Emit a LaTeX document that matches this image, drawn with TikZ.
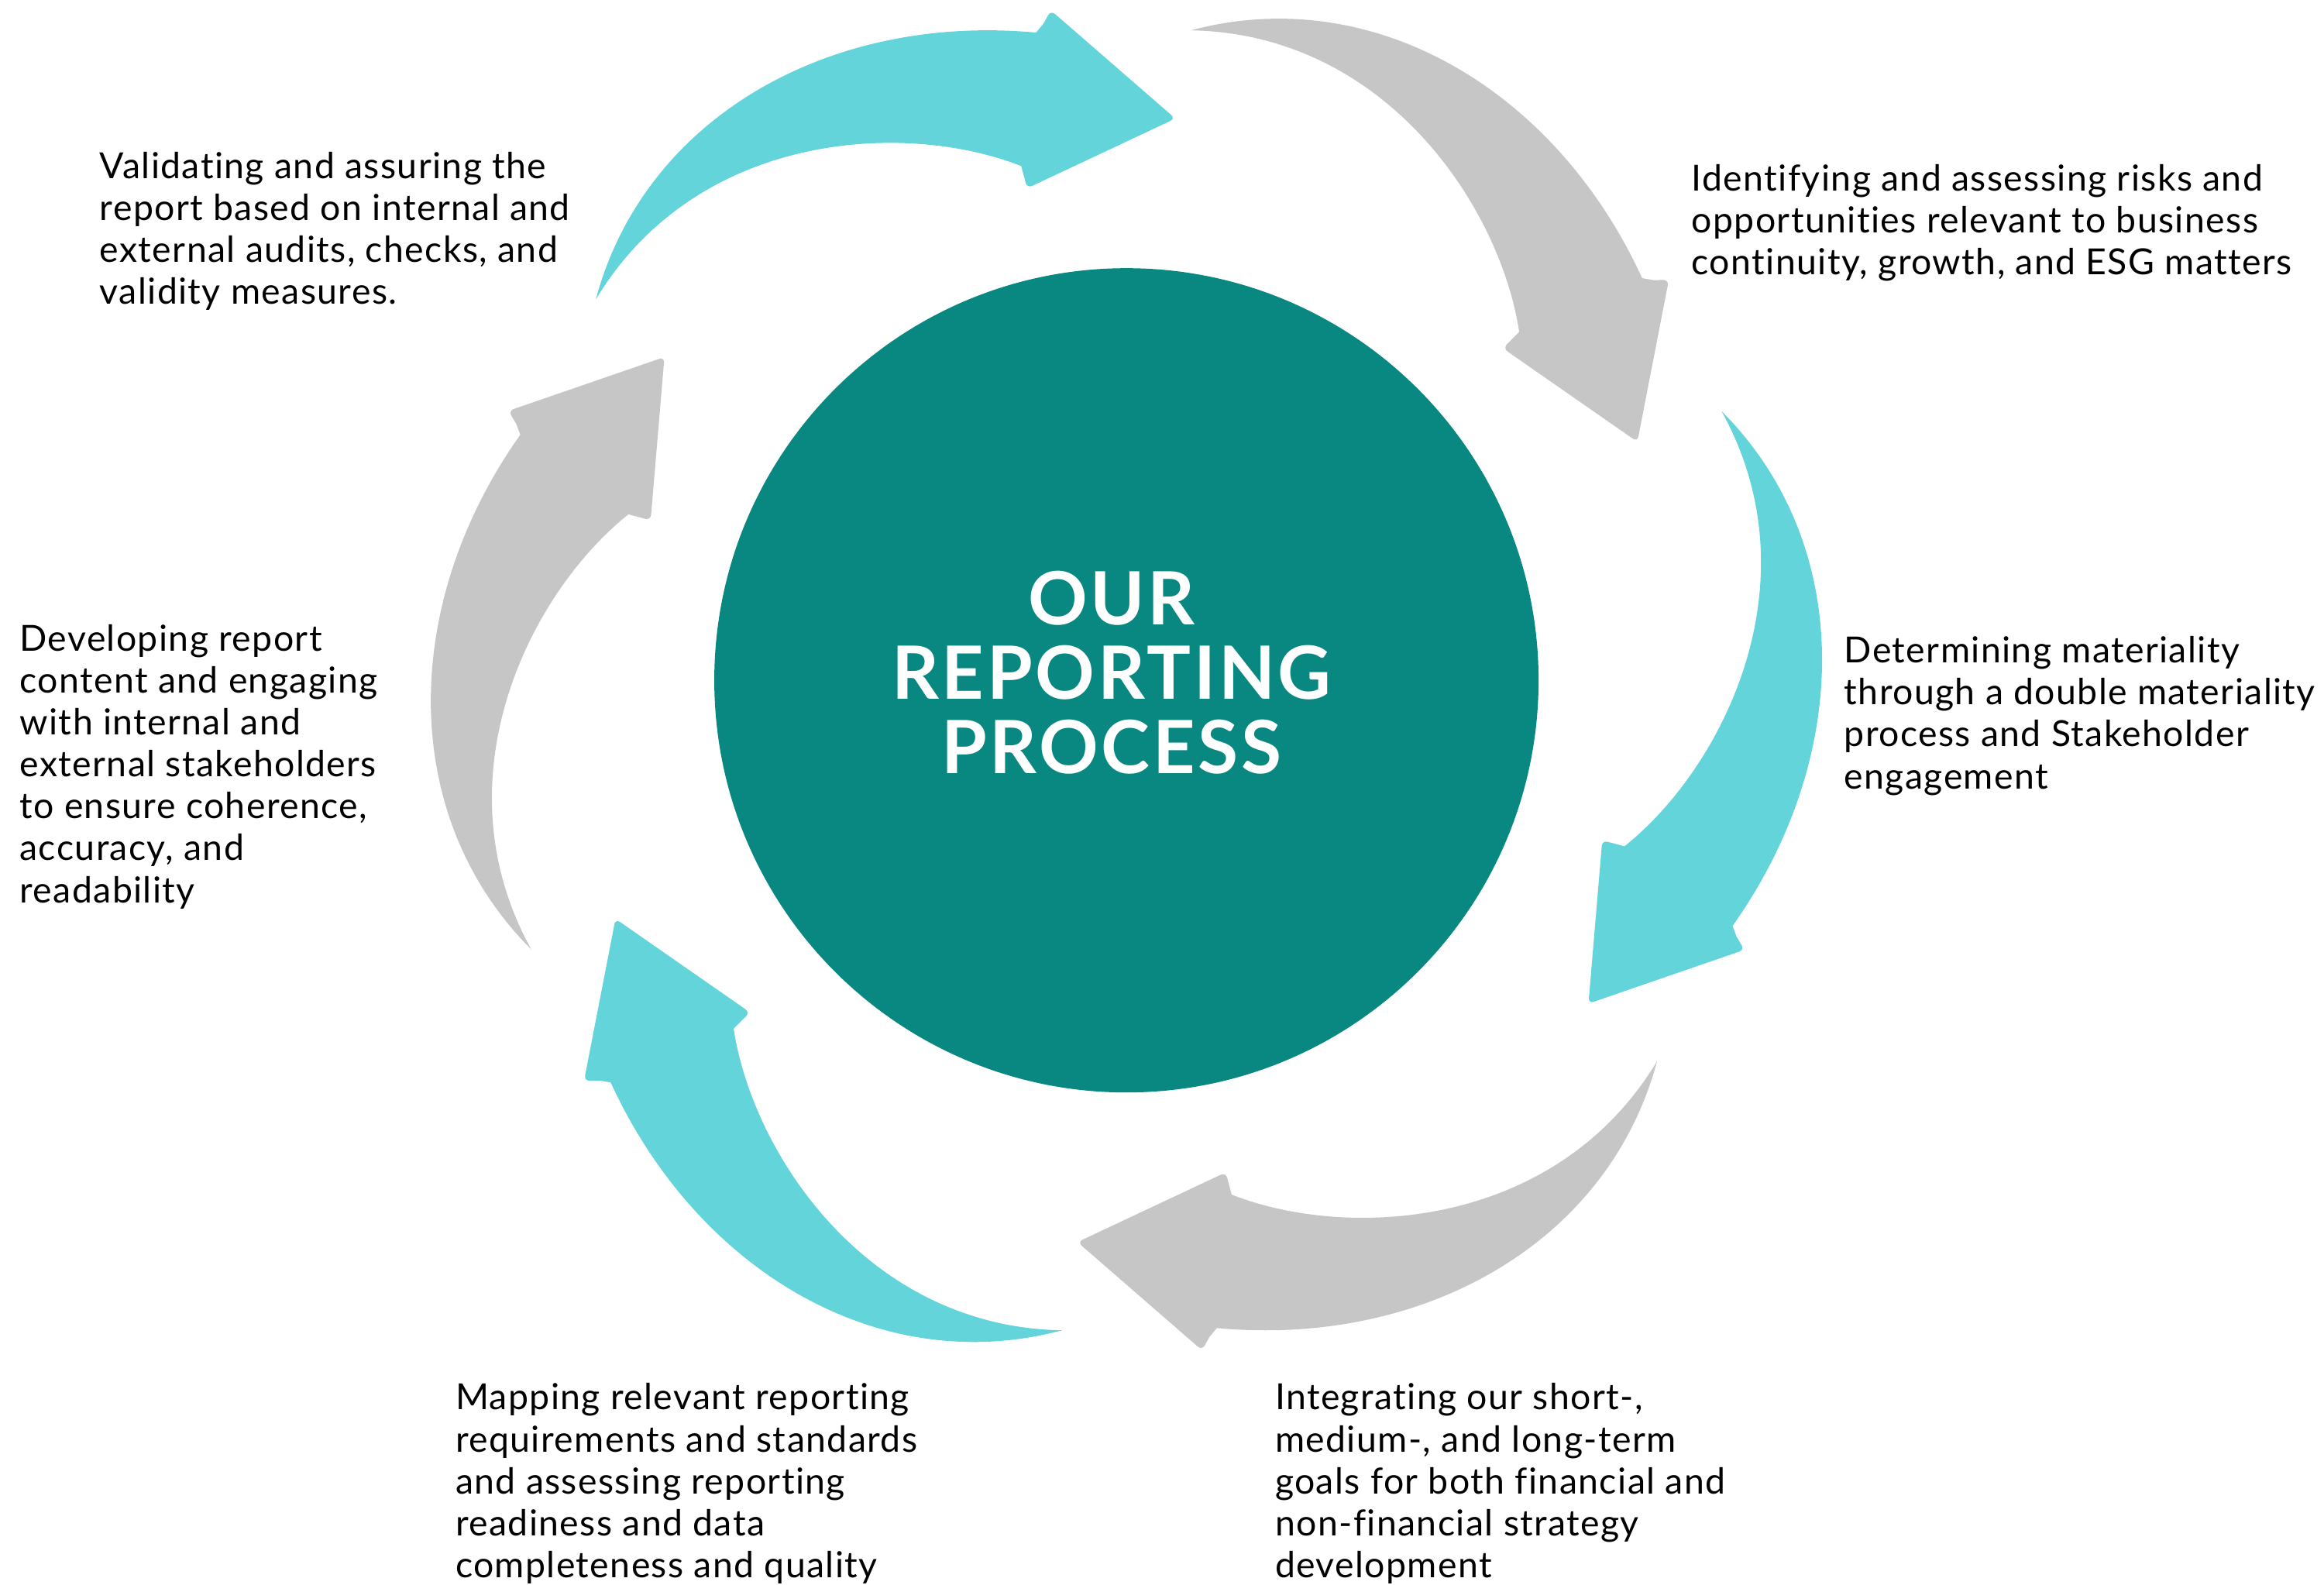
\documentclass[tikz,border=0pt]{standalone}
\usepackage{fontspec}
\setmainfont{Lato}[Ligatures=CommonOff]
\definecolor{repcyan}{HTML}{64D4DB}
\definecolor{repgray}{HTML}{C6C6C6}
\definecolor{repteal}{HTML}{088880}
% one swoosh arrow, drawn round the hub centre, pointing clockwise
\newcommand{\cyclearrow}{%
  (-358,-257) .. controls (-325,-380) and (-200,-450) .. (-61,-437)
  -- (-56,-443) [rounded corners=2pt] -- (-51,-452) -- (33,-379) -- (-67,-332) [sharp corners] -- (-71,-347)
  .. controls (-150,-378) and (-290,-370) .. (-358,-257) -- cycle}
\tikzset{
  steptext/.style={anchor=north west,inner sep=0pt,align=left,
    font=\fontsize{13.2}{15.4}\selectfont\addfontfeatures{LetterSpace=3}},
  hubtitle/.style={inner sep=0pt,align=center,text=white,
    font=\bfseries\fontsize{27}{27.3}\selectfont\addfontfeatures{LetterSpace=4}}
}
\begin{document}
\begin{tikzpicture}[x=0.19133mm,y=-0.19133mm]
    \useasboundingbox (0,0) rectangle (1568,1069);
    \node[circle,fill=repteal,minimum size=106.4mm,inner sep=0pt] (hub) at (760,459) {};
    \node[hubtitle] (title) at (750,454) {OUR\\REPORTING\\PROCESS};
    \begin{scope}[shift={(760,459)}]
        \fill[repcyan] \cyclearrow;
    \end{scope}
    \begin{scope}[shift={(760,459)},rotate=-60]
        \fill[repgray] \cyclearrow;
    \end{scope}
    \begin{scope}[shift={(760,459)},rotate=-120]
        \fill[repcyan] \cyclearrow;
    \end{scope}
    \begin{scope}[shift={(760,459)},rotate=-180]
        \fill[repgray] \cyclearrow;
    \end{scope}
    \begin{scope}[shift={(760,459)},rotate=-240]
        \fill[repcyan] \cyclearrow;
    \end{scope}
    \begin{scope}[shift={(760,459)},rotate=-300]
        \fill[repgray] \cyclearrow;
    \end{scope}
    \node[steptext] (validate) at (67,102) {Validating and assuring the\\report based on internal and\\external audits, checks, and\\validity measures.};
    \node[steptext] (identify) at (1141,110.5) {Identifying and assessing risks and\\opportunities relevant to business\\continuity, growth, and ESG matters};
    \node[steptext] (materiality) at (1244,429) {Determining materiality\\through a double materiality\\process and Stakeholder\\engagement};
    \node[steptext] (integrate) at (860,933) {Integrating our short-,\\medium-, and long-term\\goals for both financial and\\non-financial strategy\\development};
    \node[steptext] (mapping) at (307,933) {Mapping relevant reporting\\requirements and standards\\and assessing reporting\\readiness and data\\completeness and quality};
    \node[steptext] (develop) at (13,421) {Developing report\\content and engaging\\with internal and\\external stakeholders\\to ensure coherence,\\accuracy, and\\readability};
\end{tikzpicture}
\end{document}
